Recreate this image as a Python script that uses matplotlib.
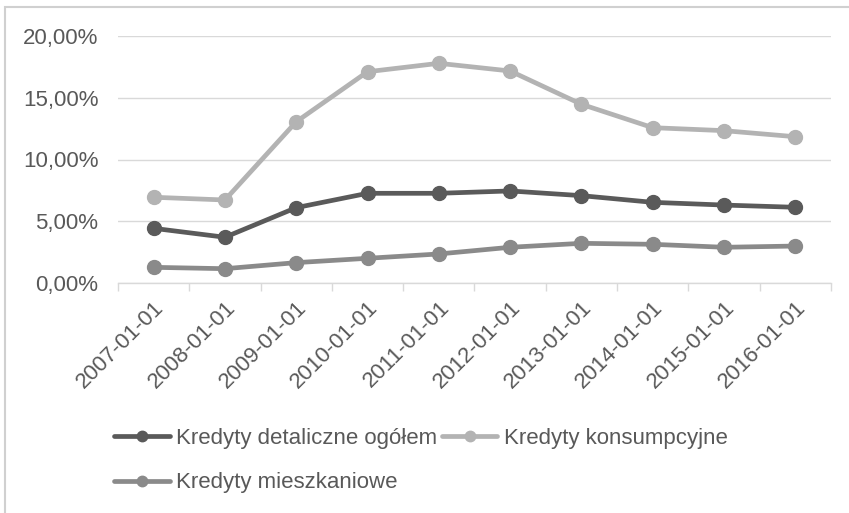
import matplotlib
matplotlib.use("Agg")
import matplotlib.pyplot as plt
from matplotlib.ticker import FuncFormatter, FixedLocator
from matplotlib.patches import Rectangle
from matplotlib.transforms import ScaledTranslation

plt.rcParams['font.family'] = ['Liberation Sans', 'DejaVu Sans']

# data (percent)
dates = ['2007-01-01', '2008-01-01', '2009-01-01', '2010-01-01', '2011-01-01',
         '2012-01-01', '2013-01-01', '2014-01-01', '2015-01-01', '2016-01-01']
total = [4.44, 3.72, 6.11, 7.27, 7.27, 7.46, 7.08, 6.54, 6.32, 6.14]
consumer = [6.95, 6.73, 13.05, 17.09, 17.77, 17.15, 14.46, 12.57, 12.33, 11.84]
mortgage = [1.29, 1.18, 1.67, 2.02, 2.37, 2.91, 3.23, 3.15, 2.91, 3.01]

names = ['Kredyty detaliczne ogółem', 'Kredyty konsumpcyjne', 'Kredyty mieszkaniowe']
colors = ['#5a5a5a', '#b3b3b3', '#8a8a8a']
text_col = '#595959'
grid_col = '#d9d9d9'
fs = 16

fig = plt.figure(figsize=(8.49, 5.13), dpi=100)
ax = fig.add_axes([118 / 849, 1 - 283.3 / 513, 713 / 849, 247.6 / 513])

x = range(len(dates))
handles = []
for vals, name, c in zip([total, consumer, mortgage], names, colors):
    h, = ax.plot(x, [v / 100 for v in vals], color=c, lw=3.4, marker='o',
                 markersize=10, label=name, solid_capstyle='round')
    handles.append(h)

ax.set_xlim(-0.5, len(dates) - 0.5)
ax.set_ylim(0, 0.2)
ax.set_yticks([0, 0.05, 0.10, 0.15, 0.20])
ax.yaxis.set_major_formatter(FuncFormatter(lambda v, p: f'{v * 100:.2f}%'.replace('.', ',')))
ax.yaxis.grid(True, color=grid_col, lw=1)
ax.set_axisbelow(True)

ax.set_xticks(list(x))
ax.set_xticklabels(dates, rotation=45, ha='right', va='top', rotation_mode='anchor')
shift = ScaledTranslation(7 / 100, 0, fig.dpi_scale_trans)
for lab in ax.get_xticklabels():
    lab.set_transform(lab.get_transform() + shift)
ax.xaxis.set_minor_locator(FixedLocator([i - 0.5 for i in range(len(dates) + 1)]))
ax.tick_params(axis='x', which='major', length=0, pad=10, labelsize=fs, colors=text_col)
ax.tick_params(axis='x', which='minor', length=5.5, width=1, color=grid_col)
ax.tick_params(axis='y', length=0, pad=14, labelsize=fs, colors=text_col)

for s in ['top', 'right', 'left']:
    ax.spines[s].set_visible(False)
ax.spines['bottom'].set_color(grid_col)
ax.spines['bottom'].set_linewidth(1)

leg = fig.legend([handles[0], handles[2], handles[1]],
                 [names[0], names[2], names[1]],
                 ncol=2, loc='upper left', bbox_to_anchor=(114 / 849, 1 - 428 / 513),
                 frameon=False, fontsize=fs, handlelength=2.5, handletextpad=0.3,
                 columnspacing=0.2, labelspacing=1.05, borderaxespad=0, borderpad=0,
                 markerscale=0.75)
for t in leg.get_texts():
    t.set_color(text_col)

# outer frame of the chart area
fig.patches.append(Rectangle((5 / 849, -0.02), 1.05, 1 - 7 / 513 + 0.02,
                             transform=fig.transFigure, fill=False,
                             edgecolor='#d0d0d0', lw=1.5))

fig.savefig('out.png', dpi=100)
